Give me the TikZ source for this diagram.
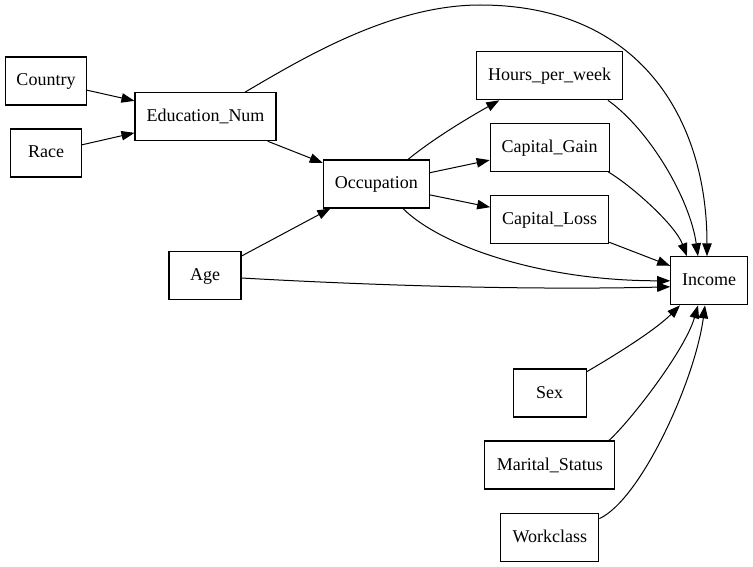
\documentclass[tikz,border=0pt]{standalone}
\usepackage{fontspec}
\setmainfont{Liberation Serif}
\usetikzlibrary{arrows.meta}
\begin{document}
\begin{tikzpicture}[x=1pt,y=-1pt,
  box/.style={draw, line width=1.1pt, rectangle, inner sep=0pt,
    minimum height=48pt, text height=14pt, text depth=4pt,
    font=\fontsize{18}{22}\selectfont},
  edge/.style={line width=1pt, -{Triangle[length=13pt,width=9.5pt]}}]
\useasboundingbox (0,0) rectangle (753,567);

% variables
\node[box, minimum width=81pt]  (country) at (46,81)      {Country};
\node[box, minimum width=71pt]  (race)    at (46,153)     {Race};
\node[box, minimum width=141pt] (edu)     at (205.5,116.7) {Education\_Num};
\node[box, minimum width=106pt] (occ)     at (376.3,184)  {Occupation};
\node[box, minimum width=72pt]  (age)     at (205,275.5)  {Age};
\node[box, minimum width=146pt] (hours)   at (549.7,75.8) {Hours\_per\_week};
\node[box, minimum width=119pt] (gain)    at (549.7,147.5) {Capital\_Gain};
\node[box, minimum width=118pt] (loss)    at (549.7,219.3) {Capital\_Loss};
\node[box, minimum width=77pt]  (inc)     at (709.2,280.8) {Income};
\node[box, minimum width=73pt]  (sex)     at (549.7,393)  {Sex};
\node[box, minimum width=130pt] (marital) at (549.8,465)  {Marital\_Status};
\node[box, minimum width=98pt]  (work)    at (549.8,537.2) {Workclass};

% straight dependencies
\draw[edge] (country) -- (edu);
\draw[edge] (race) -- (edu);
\draw[edge] (edu) -- (occ);
\draw[edge] (age) -- (occ);
\draw[edge] (occ) -- (gain);
\draw[edge] (occ) -- (loss);
\draw[edge] (loss) -- (inc);

% curved dependencies
\draw[edge] ([xshift=31.7pt]occ.north) .. controls +(22,-18) and +(-39,22) .. ([xshift=-50.4pt]hours.south);
\draw[edge] ([xshift=26.7pt]occ.south) .. controls +(37,37) and +(-130,0) .. (inc.west);
\draw[edge] ([yshift=-2.5pt]age.east) .. controls +(159,9) and +(-121,3) .. ([yshift=-6pt]inc.west);
\draw[edge] ([xshift=39.5pt]edu.north) .. controls (300,60) and (390,5) .. (480,5)
  .. controls (640,5) and ([xshift=-2.2pt,yshift=137pt]inc.north) .. ([xshift=-2.2pt]inc.north);
\draw[edge] ([xshift=58.3pt]hours.south) .. controls +(42,30) and +(-8,-57) .. ([xshift=-11.2pt]inc.north);
\draw[edge] ([xshift=-1.3pt]gain.south east) .. controls +(22,13) and +(-12,-32) .. ([xshift=-22.2pt]inc.north);
\draw[edge] ([yshift=21.3pt]sex.east) .. controls +(28.6,-16.7) and +(-25,25) .. ([xshift=-29.2pt]inc.south);
\draw[edge] ([xshift=-6.4pt]marital.north east) .. controls +(22,-20) and +(-13,45) .. ([xshift=-11.2pt]inc.south);
\draw[edge] ([yshift=-6pt]work.north east) .. controls +(41.7,-19.3) and +(-10,75) .. ([xshift=-4.2pt]inc.south);
\end{tikzpicture}
\end{document}
